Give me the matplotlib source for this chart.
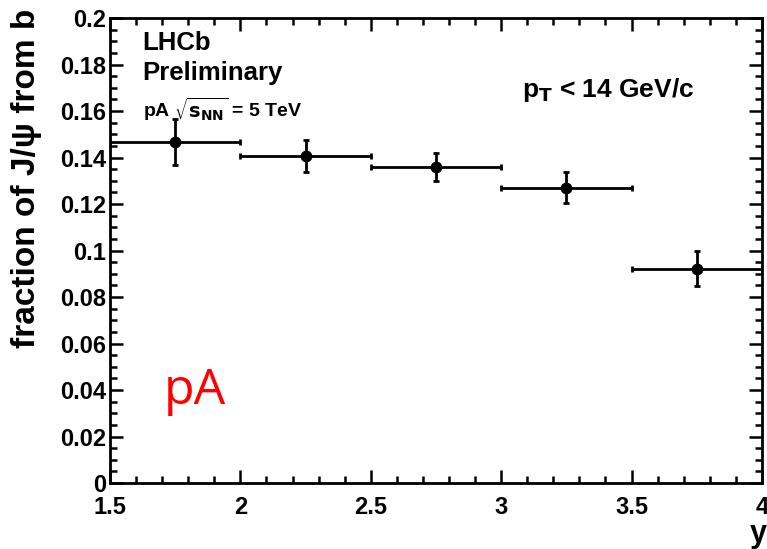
import numpy as np
import matplotlib
matplotlib.use("Agg")
import matplotlib.pyplot as plt
from matplotlib.ticker import MultipleLocator

# rapidity bins and fraction of J/psi from b
y_centres = [1.75, 2.25, 2.75, 3.25, 3.75]
y_halfwidth = [0.25, 0.25, 0.25, 0.25, 0.25]
fraction = [0.1467, 0.1408, 0.1360, 0.1270, 0.0923]
fraction_err = [0.0099, 0.0069, 0.0061, 0.0067, 0.0076]

x_ticks = [1.5, 2, 2.5, 3, 3.5, 4]
x_ticklabels = ['1.5', '2', '2.5', '3', '3.5', '4']
y_ticks = np.arange(0, 0.201, 0.02)
y_ticklabels = ['0', '0.02', '0.04', '0.06', '0.08', '0.1', '0.12',
                '0.14', '0.16', '0.18', '0.2']

plt.rcParams['font.family'] = ['Liberation Sans', 'DejaVu Sans']

fig = plt.figure(figsize=(7.67, 5.49), dpi=100)
ax = fig.add_axes([0.1434, 0.120, 0.850, 0.847])

ax.errorbar(y_centres, fraction, xerr=y_halfwidth, yerr=fraction_err,
            fmt='o', color='black', markersize=7.5, elinewidth=2,
            capsize=2.5, capthick=2)

ax.set_xlim(1.5, 4.0)
ax.set_ylim(0, 0.2)
ax.xaxis.set_minor_locator(MultipleLocator(0.1))
ax.yaxis.set_minor_locator(MultipleLocator(0.005))
ax.set_xticks(x_ticks)
ax.set_xticklabels(x_ticklabels)
ax.set_yticks(y_ticks)
ax.set_yticklabels(y_ticklabels)

ax.tick_params(which='both', direction='in', top=True, right=True, width=1.8)
ax.tick_params(which='major', length=9.5, labelsize=17)
ax.tick_params(axis='x', which='major', pad=9.5)
ax.tick_params(axis='y', which='major', pad=3)
ax.tick_params(which='minor', length=5)
for lab in ax.get_xticklabels() + ax.get_yticklabels():
    lab.set_fontweight('bold')
for s in ax.spines.values():
    s.set_linewidth(2)

ax.set_ylabel('fraction of J/ψ from b', fontsize=24, fontweight='bold')
ax.yaxis.set_label_coords(-0.105, 1.021)
ax.yaxis.label.set_horizontalalignment('right')
ax.set_xlabel('y', fontsize=22, fontweight='bold')
ax.xaxis.set_label_coords(1.0077, -0.078)
ax.xaxis.label.set_horizontalalignment('right')
ax.xaxis.label.set_verticalalignment('top')

ax.text(0.05, 0.972, 'LHCb', transform=ax.transAxes, fontsize=18.5,
        fontweight='bold', va='top')
ax.text(0.05, 0.908, 'Preliminary', transform=ax.transAxes, fontsize=18.5,
        fontweight='bold', va='top')
ax.text(0.05, 0.835, r'pA $\sqrt{\mathbf{s}_{\mathbf{NN}}}$ = 5 TeV',
        transform=ax.transAxes, fontsize=14, fontweight='bold', va='top')
ax.text(0.632, 0.875, r'p$_{\mathbf{T}}$ < 14 GeV/c', transform=ax.transAxes,
        fontsize=19, fontweight='bold', va='top')
ax.text(0.083, 0.145, 'pA', transform=ax.transAxes, fontsize=36,
        color='red', va='bottom', family=['Open Sans', 'DejaVu Sans'])

fig.savefig('out.png', dpi=100)
